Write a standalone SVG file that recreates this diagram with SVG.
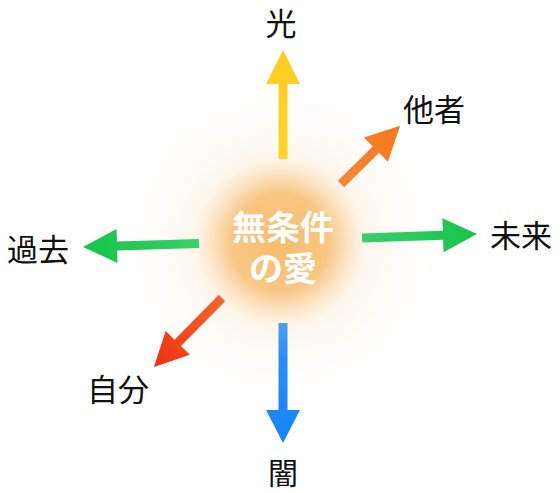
<svg xmlns="http://www.w3.org/2000/svg" width="560" height="493" viewBox="0 0 560 493">
<defs>
<radialGradient id="glow" cx="280" cy="242" r="165" gradientUnits="userSpaceOnUse">
<stop offset="0" stop-color="#F7BC6C" stop-opacity="1"/>
<stop offset="0.3" stop-color="#F8C27A" stop-opacity="0.92"/>
<stop offset="0.42" stop-color="#FAD3A0" stop-opacity="0.6"/>
<stop offset="0.52" stop-color="#FCE6CC" stop-opacity="0.35"/>
<stop offset="0.75" stop-color="#FEF4EA" stop-opacity="0.25"/>
<stop offset="1" stop-color="#FFFFFF" stop-opacity="0"/>
</radialGradient>
<linearGradient id="gYellow" x1="0" y1="0" x2="1" y2="0"><stop offset="0" stop-color="#FFD42E"/><stop offset="1" stop-color="#FFCC22"/></linearGradient>
<linearGradient id="gOrange" x1="0" y1="0" x2="1" y2="0"><stop offset="0" stop-color="#F7873A"/><stop offset="1" stop-color="#F57818"/></linearGradient>
<linearGradient id="gGreen" x1="0" y1="0" x2="1" y2="0"><stop offset="0" stop-color="#38D06A"/><stop offset="1" stop-color="#16C448"/></linearGradient>
<linearGradient id="gRed" x1="0" y1="0" x2="1" y2="0"><stop offset="0" stop-color="#F5652E"/><stop offset="1" stop-color="#EF3210"/></linearGradient>
<linearGradient id="gBlue" x1="0" y1="0" x2="1" y2="0"><stop offset="0" stop-color="#4C9EEF"/><stop offset="0.3" stop-color="#2A8CF3"/><stop offset="1" stop-color="#1584F7"/></linearGradient>
</defs>
<style>
.lbl{font-family:"Noto Sans CJK JP","Noto Sans CJK SC",sans-serif;font-size:31px;fill:#111;text-anchor:middle}
.ctr{font-family:"Noto Sans CJK JP","Noto Sans CJK SC",sans-serif;font-size:34px;font-weight:bold;fill:#FFFFFF;text-anchor:middle}
</style>
<rect width="560" height="493" fill="#FFFFFF"/>
<g id="center">
<circle cx="280" cy="242" r="165" fill="url(#glow)"/>
<text class="ctr" x="283" y="240">無条件<tspan x="283" dy="41">の愛</tspan></text>
</g>
<g id="connectors">
<path transform="translate(283,159) rotate(-90)" d="M0,-4.5 H75 V-17 L109,0 L75,17 V4.5 H0 Z" fill="url(#gYellow)"/>
<path transform="translate(341,184) rotate(-44.5)" d="M0,-4.5 H49 V-17 L83,0 L49,17 V4.5 H0 Z" fill="url(#gOrange)"/>
<path transform="translate(362,238) rotate(-2)" d="M0,-4.5 H81 V-17 L115,0 L81,17 V4.5 H0 Z" fill="url(#gGreen)"/>
<path transform="translate(199,243.5) rotate(178.3)" d="M0,-4.5 H82 V-17 L116,0 L82,17 V4.5 H0 Z" fill="url(#gGreen)"/>
<path transform="translate(222,298) rotate(134.6)" d="M0,-4.5 H63 V-17 L97,0 L63,17 V4.5 H0 Z" fill="url(#gRed)"/>
<path transform="translate(283,323) rotate(90)" d="M0,-4.5 H87 V-17 L120,0 L87,17 V4.5 H0 Z" fill="url(#gBlue)"/>
</g>
<g id="n-hikari"><text class="lbl" x="281" y="35">光</text></g>
<g id="n-tasha"><text class="lbl" x="434" y="121">他者</text></g>
<g id="n-mirai"><text class="lbl" x="521" y="247">未来</text></g>
<g id="n-kako"><text class="lbl" x="38" y="261">過去</text></g>
<g id="n-jibun"><text class="lbl" x="118" y="401">自分</text></g>
<g id="n-yami"><text class="lbl" x="283" y="484" style="font-size:30px">闇</text></g>
</svg>
